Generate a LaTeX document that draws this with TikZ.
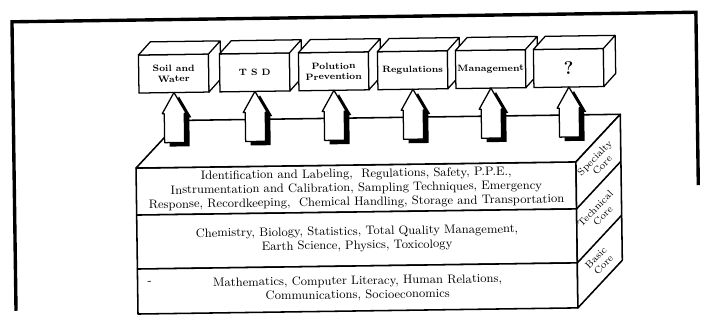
\documentclass[tikz,border=0pt]{standalone}
\usepackage{tikz}
\usetikzlibrary{positioning}

\begin{document}
\begin{tikzpicture}[x=0.25mm, y=-0.25mm,
    frame/.style={line width=2.4pt},
    block/.style={draw, fill=white, line width=1.1pt, line join=round},
    layer/.style={block, minimum width=110mm, inner sep=0pt, outer sep=0pt,
                  align=center, font=\fontsize{8.7}{10}\selectfont},
    subject/.style={draw, fill=white, line width=0.9pt, minimum width=17.5mm,
                    minimum height=9.5mm, inner sep=0pt, outer sep=0pt,
                    align=center, font=\fontsize{6.5}{7.5}\selectfont\bfseries},
    face/.style={draw, fill=white, line width=0.9pt, line join=round},
    rise/.style={draw, fill=white, line width=0.9pt, line join=round},
    corelabel/.style={rotate=45, align=center, inner sep=0pt,
                      font=\fontsize{7}{7.5}\selectfont}]
  \useasboundingbox (0,0) rectangle (703,325);
  \begin{scope}[rotate around={0.8:(356,165)}, transform shape]
  % Outer frame
  \draw[frame] (14,306) -- (14,17) -- (698,17) -- (698,190);
  % Core block, three layers
  \node[layer, minimum height=11.75mm] (spec) at (356,188.5)
       {Identification and Labeling,\ \ Regulations, Safety, P.P.E.,\\
        Instrumentation and Calibration, Sampling Techniques, Emergency\\
        Response, Recordkeeping,\ \ Chemical Handling, Storage and Transportation};
  \node[layer, minimum height=13.5mm, below=0pt of spec] (tech)
       {Chemistry, Biology, Statistics, Total Quality Management,\\
        Earth Science, Physics, Toxicology};
  \node[layer, minimum height=11.25mm, below=0pt of tech] (basic)
       {Mathematics, Computer Literacy, Human Relations,\\
        Communications, Socioeconomics};
  \node[font=\fontsize{8.7}{10}\selectfont] (dash) at (148,280) {-};
  % Top and side faces
  \draw[block] (spec.north west) -- (spec.north east) -- ++(45,-47) -- ++(-440,0) -- cycle;
  \draw[block] (spec.north east) -- ++(45,-47) -- ++(0,146) -- (basic.south east) -- cycle;
  \draw[block] (spec.south east) -- ++(45,-47) (tech.south east) -- ++(45,-47);
  \path (spec.east) ++(22.5,-23.5) node[corelabel] (specside) {Specialty\\Core};
  \path (tech.east) ++(22.5,-23.5) node[corelabel] (techside) {Technical\\Core};
  \path (basic.east) ++(22.5,-23.5) node[corelabel] (basicside) {Basic\\Core};
  % Subject boxes
  \foreach \name/\xx/\txt in {soil/175/{Soil and\\Water}, tsd/256/{T S D},
      pol/335/{Polution\\Prevention}, reg/414/{Regulations},
      mgmt/492/{Management}, unknown/570/{\fontsize{13}{14}\selectfont ?}}{
    \node[subject] (\name) at (\xx,71) {\txt};
    \draw[face] (\name.north west) -- ++(12,-13) -- ++(70,0) -- ++(0,38)
      -- (\name.south east) -- (\name.north east) -- cycle
      (\name.north east) -- ++(12,-13);
  }
  % Hollow arrows up from the block
  \foreach \name in {soil,tsd,pol,reg,mgmt,unknown}{
    \fill (\name.south) ++(5,4) -- ++(12,21) -- ++(-2,0) -- ++(0,29)
      -- ++(-20,0) -- ++(0,-29) -- ++(-2,0) -- cycle;
    \draw[rise] (\name.south) -- ++(12,21) -- ++(-2,0) -- ++(0,29)
      -- ++(-20,0) -- ++(0,-29) -- ++(-2,0) -- cycle;
  }
  \end{scope}
\end{tikzpicture}
\end{document}
